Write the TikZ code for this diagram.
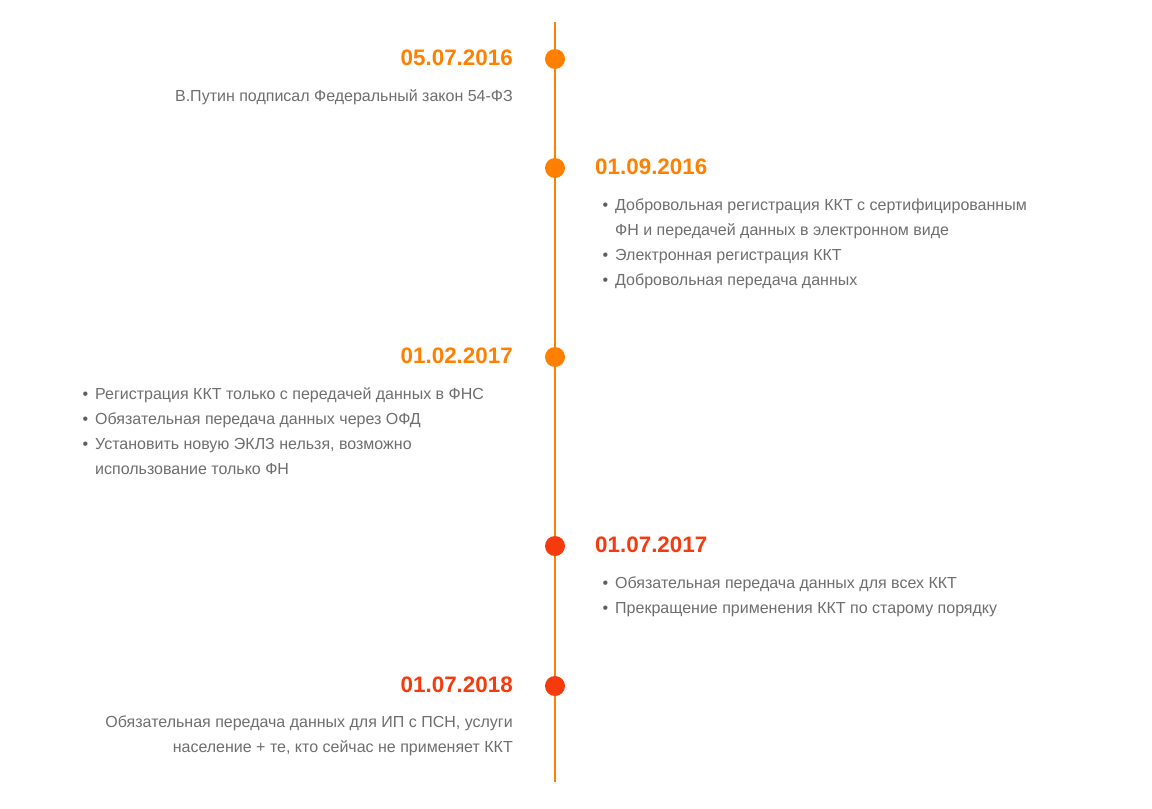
\documentclass[tikz,border=0pt]{standalone}
\usepackage{fontspec}
\setmainfont{Liberation Sans}

\definecolor{spine}{HTML}{FF7F00}
\definecolor{early}{HTML}{FF7F00}
\definecolor{late}{HTML}{F53A0E}
\definecolor{note}{HTML}{6E6E6E}

\newcommand{\bul}{\llap{\textcolor{note!85!black}{\textbullet}\hspace{7pt}}}

\tikzset{
  milestone/.style={circle, fill=#1, minimum size=20pt, inner sep=0pt},
  datelabel/.style={font=\fontsize{22.4}{26}\selectfont\bfseries, text=#1, inner sep=0pt},
  notetext/.style={font=\fontsize{16}{24.7}\selectfont, text=note, inner sep=0pt}
}

\begin{document}
\begin{tikzpicture}[x=1pt, y=-1pt]

\useasboundingbox (0,0) rectangle (1152,809);

% Asse
\coordinate (top) at (555,22);
\coordinate (bottom) at (555,782);
\draw[spine, line width=2pt] (top) -- (bottom);

% 05.07.2016
\node[milestone=early] (m1) at (555,59) {};
\node[datelabel=early, anchor=base east] (d1) at (513,65) {05.07.2016};
\node[notetext, anchor=base east, align=right] (t1) at (513,101)
  {В.Путин подписал Федеральный закон 54-ФЗ};

% 01.09.2016 (base = ultima riga)
\node[milestone=early] (m2) at (555,168) {};
\node[datelabel=early, anchor=base west] (d2) at (595,174) {01.09.2016};
\node[notetext, anchor=base west, align=left] (t2) at (615,285)
  {\bul Добровольная регистрация ККТ с сертифицированным\\
   ФН и передачей данных в электронном виде\\
   \bul Электронная регистрация ККТ\\
   \bul Добровольная передача данных};

% 01.02.2017
\node[milestone=early] (m3) at (555,357) {};
\node[datelabel=early, anchor=base east] (d3) at (513,363) {01.02.2017};
\node[notetext, anchor=base west, align=left] (t3) at (95,474)
  {\bul Регистрация ККТ только с передачей данных в ФНС\\
   \bul Обязательная передача данных через ОФД\\
   \bul Установить новую ЭКЛЗ нельзя, возможно\\
   использование только ФН};

% 01.07.2017
\node[milestone=late] (m4) at (555,546) {};
\node[datelabel=late, anchor=base west] (d4) at (595,552) {01.07.2017};
\node[notetext, anchor=base west, align=left] (t4) at (615,613)
  {\bul Обязательная передача данных для всех ККТ\\
   \bul Прекращение применения ККТ по старому порядку};

% 01.07.2018
\node[milestone=late] (m5) at (555,686) {};
\node[datelabel=late, anchor=base east] (d5) at (513,692) {01.07.2018};
\node[notetext, anchor=base east, align=right] (t5) at (513,752)
  {Обязательная передача данных для ИП с ПСН, услуги\\
   население + те, кто сейчас не применяет ККТ};

\end{tikzpicture}
\end{document}
